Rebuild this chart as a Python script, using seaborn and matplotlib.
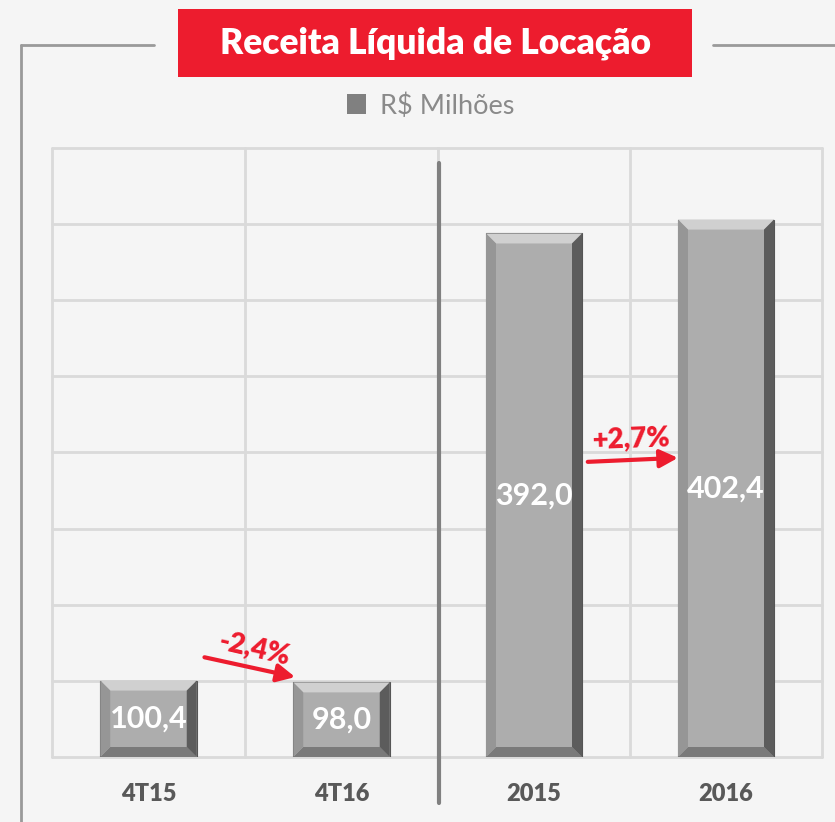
import numpy as np
import pandas as pd
import seaborn as sns
import matplotlib.pyplot as plt
from matplotlib.patches import Polygon, Rectangle
from matplotlib.lines import Line2D

# data
quarters = ["4T15", "4T16"]
quarter_values = [100.4, 98.0]
years = ["2015", "2016"]
year_values = [392.0, 402.4]
quarter_change = "-2,4%"
year_change = "+2,7%"
title = "Receita Líquida de Locação"
unit_label = "R$ Milhões"

RED = "#ed1c2e"
BG = "#f5f5f5"
GRID = "#dadada"

sns.set_theme(style="white")
plt.rcParams["font.family"] = ["Lato", "DejaVu Sans"]

W, H = 835, 822
fig = plt.figure(figsize=(W / 100, H / 100), dpi=100)
fig.patch.set_facecolor(BG)

ax_q = fig.add_axes([52 / W, 1 - 757 / H, 386 / W, 609 / H])
ax_y = fig.add_axes([438 / W, 1 - 757 / H, 384 / W, 609 / H])


def panel(ax, cats, vals, ymax):
    df = pd.DataFrame({"cat": cats, "val": vals})
    sns.barplot(data=df, x="cat", y="val", ax=ax, color="#adadad",
                width=0.5, saturation=1, edgecolor="#555555", linewidth=0.8,
                zorder=3)
    ax.set_xlim(-0.5, 1.5)
    ax.set_ylim(0, ymax)
    ax.set_facecolor(BG)
    for y in np.linspace(0, ymax, 9):
        ax.axhline(y, color=GRID, lw=2, zorder=0, clip_on=False)
    for x in [-0.5, 0.5, 1.5]:
        ax.axvline(x, color=GRID, lw=2, zorder=0, clip_on=False)
    for s in ax.spines.values():
        s.set_visible(False)
    ax.set_xlabel("")
    ax.set_ylabel("")
    ax.set_yticks([])
    ax.tick_params(axis="x", length=0, pad=19)
    for lab in ax.get_xticklabels():
        lab.set_fontsize(17)
        lab.set_fontweight("heavy")
        lab.set_color("#595959")

    # bevel look on the bars
    bbox = ax.get_position()
    px_x = bbox.width * W / 2.0
    px_y = bbox.height * H / ymax
    bx, by = 10 / px_x, 10 / px_y
    for p, v in zip(ax.patches, vals):
        x0, w, h = p.get_x(), p.get_width(), p.get_height()
        x1 = x0 + w
        sides = [
            ([(x0, h), (x1, h), (x1 - bx, h - by), (x0 + bx, h - by)], "#d0d0d0"),
            ([(x0, 0), (x1, 0), (x1 - bx, by), (x0 + bx, by)], "#7a7a7a"),
            ([(x0, 0), (x0, h), (x0 + bx, h - by), (x0 + bx, by)], "#969696"),
            ([(x1, 0), (x1, h), (x1 - bx, h - by), (x1 - bx, by)], "#5c5c5c"),
        ]
        for pts, c in sides:
            ax.add_patch(Polygon(pts, closed=True, facecolor=c, edgecolor="none", zorder=4))
        ax.text(x0 + w / 2, h / 2, f"{v:.1f}".replace(".", ","), ha="center", va="center",
                color="white", fontsize=22, fontweight="bold", zorder=5)


panel(ax_q, quarters, quarter_values, 800)
panel(ax_y, years, year_values, 456)

# change arrows
arrow = dict(arrowstyle="-|>,head_length=0.9,head_width=0.45", color=RED, lw=3,
             shrinkA=0, shrinkB=0)
ax_q.annotate("", xy=(0.76, 105), xytext=(0.29, 131), arrowprops=arrow, zorder=6)
ax_q.text(0.55, 143, quarter_change, ha="center", va="center", rotation=-13,
          color=RED, fontsize=20, fontweight="heavy", zorder=6)
ax_y.annotate("", xy=(0.75, 224), xytext=(0.28, 221), arrowprops=arrow, zorder=6)
ax_y.text(0.51, 238, year_change, ha="center", va="center", rotation=2,
          color=RED, fontsize=20, fontweight="heavy", zorder=6)

# divider between quarters and years
fig.add_artist(Line2D([439 / W, 439 / W], [1 - 163 / H, 1 - 803 / H], color="#808080", lw=3))

# outer frame
fc = "#9a9a9a"
fig.add_artist(Line2D([21 / W, 154 / W], [1 - 45 / H] * 2, color=fc, lw=2))
fig.add_artist(Line2D([713 / W, 1], [1 - 45 / H] * 2, color=fc, lw=2))
fig.add_artist(Line2D([21 / W, 21 / W], [1 - 45 / H, 0], color=fc, lw=2))

# title box
fig.add_artist(Rectangle((178 / W, 1 - 77 / H), 514 / W, 68 / H, transform=fig.transFigure,
                         facecolor=RED, edgecolor="none"))
fig.text(435 / W, 1 - 43 / H, title, ha="center", va="center", color="white",
         fontsize=25.5, fontweight="heavy")

# legend
fig.add_artist(Rectangle((347 / W, 1 - 114 / H), 19 / W, 20 / H, transform=fig.transFigure,
                         facecolor="#808080", edgecolor="none"))
fig.text(380 / W, 1 - 106 / H, unit_label, ha="left", va="center", color="#8a8a8a",
         fontsize=19.5)

fig.savefig("out.png", dpi=100, facecolor=BG)
